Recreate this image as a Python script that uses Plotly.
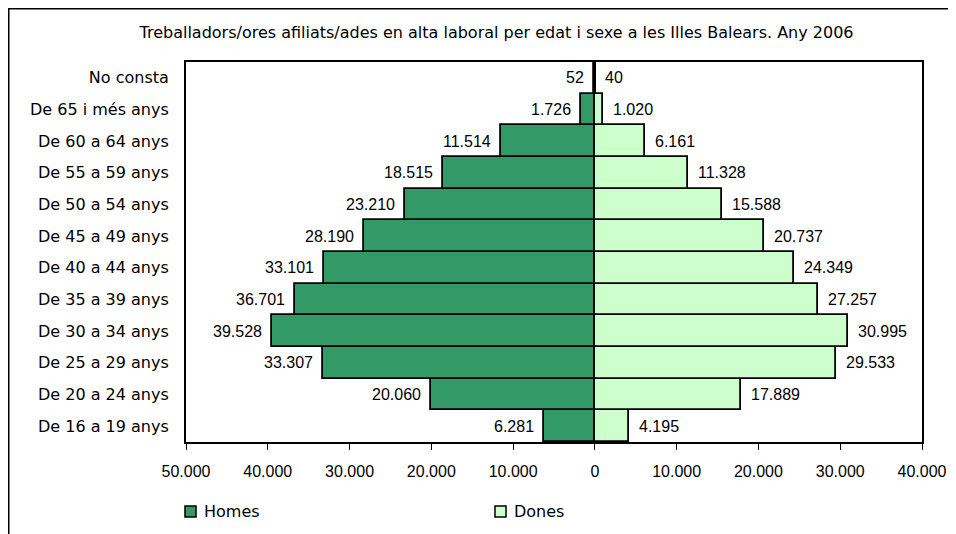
import plotly.graph_objects as go

categories = ["De 16 a 19 anys", "De 20 a 24 anys", "De 25 a 29 anys", "De 30 a 34 anys",
              "De 35 a 39 anys", "De 40 a 44 anys", "De 45 a 49 anys", "De 50 a 54 anys",
              "De 55 a 59 anys", "De 60 a 64 anys", "De 65 i més anys", "No consta"]
homes = [6281, 20060, 33307, 39528, 36701, 33101, 28190, 23210, 18515, 11514, 1726, 52]
dones = [4195, 17889, 29533, 30995, 27257, 24349, 20737, 15588, 11328, 6161, 1020, 40]
tick_vals = [-50000, -40000, -30000, -20000, -10000, 0, 10000, 20000, 30000, 40000]
series_names = ["Homes", "Dones"]
series_colors = ["#339966", "#CCFFCC"]

title = "Treballadors/ores afiliats/ades en alta laboral per edat i sexe a les Illes Balears. Any 2006"
NUM_FONT = "Liberation Sans, Arial, sans-serif"
TXT_FONT = "DejaVu Sans, Liberation Sans, sans-serif"


def fmt(v):
    return f"{abs(v):,}".replace(",", ".")


fig = go.Figure()
fig.add_trace(go.Bar(
    y=categories, x=[-v for v in homes], orientation='h', name=series_names[0],
    marker=dict(color=series_colors[0], line=dict(color='black', width=1.8)),
))
fig.add_trace(go.Bar(
    y=categories, x=dones, orientation='h', name=series_names[1],
    marker=dict(color=series_colors[1], line=dict(color='black', width=1.8)),
))

# value labels next to bar ends
for c, v in zip(categories, homes):
    fig.add_annotation(x=-v, y=c, text=fmt(v), showarrow=False, xanchor='right', xshift=-8,
                       font=dict(family=NUM_FONT, size=16, color='black'))
for c, v in zip(categories, dones):
    fig.add_annotation(x=v, y=c, text=fmt(v), showarrow=False, xanchor='left', xshift=8,
                       font=dict(family=NUM_FONT, size=16, color='black'))

# outer chart frame (only left/top fall inside the window)
fig.add_shape(type='rect', xref='paper', yref='paper', x0=-0.2408, x1=1.3, y0=-0.5, y1=1.1401,
              line=dict(color='black', width=1.5))

# legend drawn by hand (square + label) below the axis
for name, col, x0 in zip(series_names, series_colors, [-0.0014, 0.4198]):
    fig.add_shape(type='rect', xref='paper', yref='paper', x0=x0, x1=x0 + 0.015,
                  y0=-0.1974, y1=-0.1684, fillcolor=col, line=dict(color='black', width=1.5))
    fig.add_annotation(xref='paper', yref='paper', x=x0 + 0.0235, y=-0.1829, text=name,
                       showarrow=False, xanchor='left', yanchor='middle',
                       font=dict(family=TXT_FONT, size=16, color='black'))

fig.update_layout(
    width=948, height=526,
    margin=dict(l=178, r=34, t=54, b=92),
    paper_bgcolor='white', plot_bgcolor='white',
    barmode='relative', bargap=0,
    font=dict(family=NUM_FONT, size=16, color='black'),
    title=dict(text=title, x=0.4219, xref='paper', xanchor='center', y=1 - 24 / 526, yanchor='middle',
               font=dict(family=TXT_FONT, size=16, color='black')),
    showlegend=False,
    xaxis=dict(range=[-50000, 40000], tickvals=tick_vals, ticktext=[fmt(v) for v in tick_vals],
               showgrid=False, zeroline=True, zerolinecolor='black', zerolinewidth=2.5,
               showline=True, mirror=True, linecolor='black', linewidth=2,
               ticks='outside', ticklen=6, tickcolor='black', tickwidth=1, ticklabelstandoff=8,
               tickfont=dict(family=NUM_FONT, size=16), automargin=False),
    yaxis=dict(showgrid=False, showline=True, mirror=True, linecolor='black', linewidth=2,
               ticks='', ticklabelstandoff=12, tickfont=dict(family=TXT_FONT, size=16),
               automargin=False),
    yaxis2=dict(overlaying='y', anchor='free', position=50000 / 90000, range=[-0.5, 11.5],
                tickvals=list(range(12)), showticklabels=False, ticks='outside', ticklen=4,
                tickcolor='black', showgrid=False, zeroline=False, showline=False,
                automargin=False),
)

fig.write_html("out.html")
